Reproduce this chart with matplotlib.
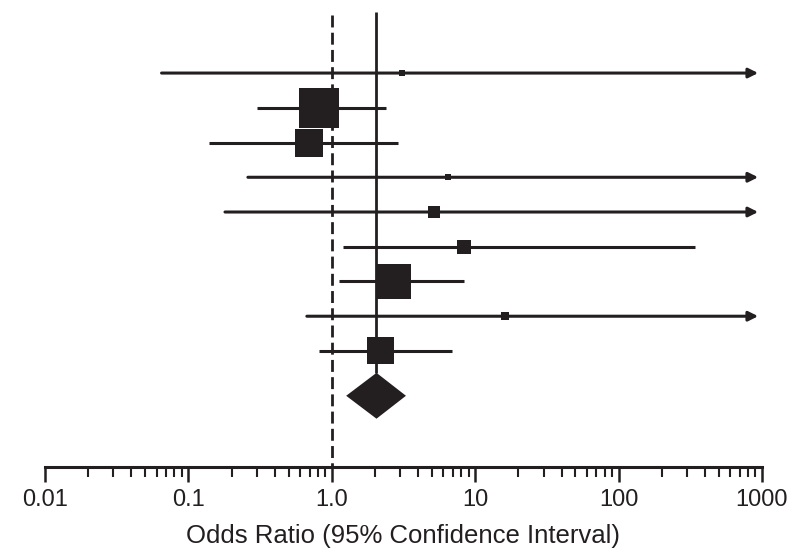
import numpy as np
import matplotlib
matplotlib.use('Agg')
import matplotlib.pyplot as plt
from matplotlib.ticker import LogLocator, FixedLocator, FixedFormatter, NullFormatter


# odds ratios per study (top to bottom)
odds_ratio = [3.1, 0.81, 0.69, 6.5, 5.2, 8.4, 2.7, 16.1, 2.2]
ci_lower = [0.065, 0.30, 0.14, 0.26, 0.18, 1.20, 1.12, 0.67, 0.81]
ci_upper = [1500, 2.4, 2.9, 1500, 1500, 340, 8.3, 1500, 6.9]
# relative weights (%), give the size of the squares
weights = [0.8, 33.2, 16.3, 0.8, 3.0, 4.1, 25.4, 1.3, 15.1]

# pooled estimate (diamond)
pooled_or = 2.05
pooled_lower = 1.26
pooled_upper = 3.29

tick_values = [0.01, 0.1, 1.0, 10, 100, 1000]
tick_labels = ['0.01', '0.1', '1.0', '10', '100', '1000']
x_label = 'Odds Ratio (95% Confidence Interval)'


def main():
    color = '#231f20'
    x_max = 1000
    arrow_tip = 940   # where off-scale lines end with an arrow

    fig = plt.figure(figsize=(8.02, 5.52), dpi=100)
    ax = fig.add_axes([0.0561, 0.154, 0.894, 0.837])
    ax.set_xscale('log')
    ax.set_xlim(0.01, x_max)
    ax.set_ylim(12.34, -0.96)

    rows = np.arange(1, len(odds_ratio) + 1)
    diamond_y = 10.29
    diamond_h = 0.66

    # reference line at OR = 1 and line at the pooled estimate
    ax.vlines(1.0, -0.67, 12.34, colors=color, linewidth=2.0,
              linestyles=(0, (4.3, 1.9)), zorder=1)
    ax.vlines(pooled_or, -0.76, diamond_y - diamond_h, colors=color,
              linewidth=2.0, zorder=1)

    # confidence intervals
    for y, lo, hi in zip(rows, ci_lower, ci_upper):
        if hi > x_max:
            ax.annotate('', xy=(arrow_tip, y), xytext=(lo, y),
                        arrowprops=dict(arrowstyle='-|>', color=color, lw=2.2,
                                        mutation_scale=14, shrinkA=0, shrinkB=0),
                        zorder=2)
        else:
            ax.plot([lo, hi], [y, y], color=color, linewidth=2.2,
                    solid_capstyle='butt', zorder=2)

    # squares, area proportional to weight
    sizes = [25 * w for w in weights]
    ax.scatter(odds_ratio, rows, s=sizes, marker='s', color=color,
               linewidths=0, zorder=3)

    # pooled diamond
    ax.fill([pooled_lower, pooled_or, pooled_upper, pooled_or],
            [diamond_y, diamond_y - diamond_h, diamond_y, diamond_y + diamond_h],
            color=color, linewidth=0, zorder=3)

    for side in ['left', 'top', 'right']:
        ax.spines[side].set_visible(False)
    ax.spines['bottom'].set_linewidth(2.2)
    ax.spines['bottom'].set_color(color)
    ax.set_yticks([])

    ax.xaxis.set_major_locator(FixedLocator(tick_values))
    ax.xaxis.set_major_formatter(FixedFormatter(tick_labels))
    ax.xaxis.set_minor_locator(LogLocator(base=10, subs=np.arange(2, 10)))
    ax.xaxis.set_minor_formatter(NullFormatter())
    ax.tick_params(axis='x', which='major', length=11, width=1.8, color=color,
                   pad=5, labelsize=17, labelcolor=color)
    ax.tick_params(axis='x', which='minor', length=7, width=1.5, color=color)
    for lbl in ax.get_xticklabels():
        lbl.set_family(['Liberation Sans', 'DejaVu Sans'])

    ax.set_xlabel(x_label, fontsize=18.5, color=color, labelpad=9,
                  family=['Liberation Sans', 'DejaVu Sans'])

    fig.savefig('out.png', dpi=100)


if __name__ == '__main__':
    main()
